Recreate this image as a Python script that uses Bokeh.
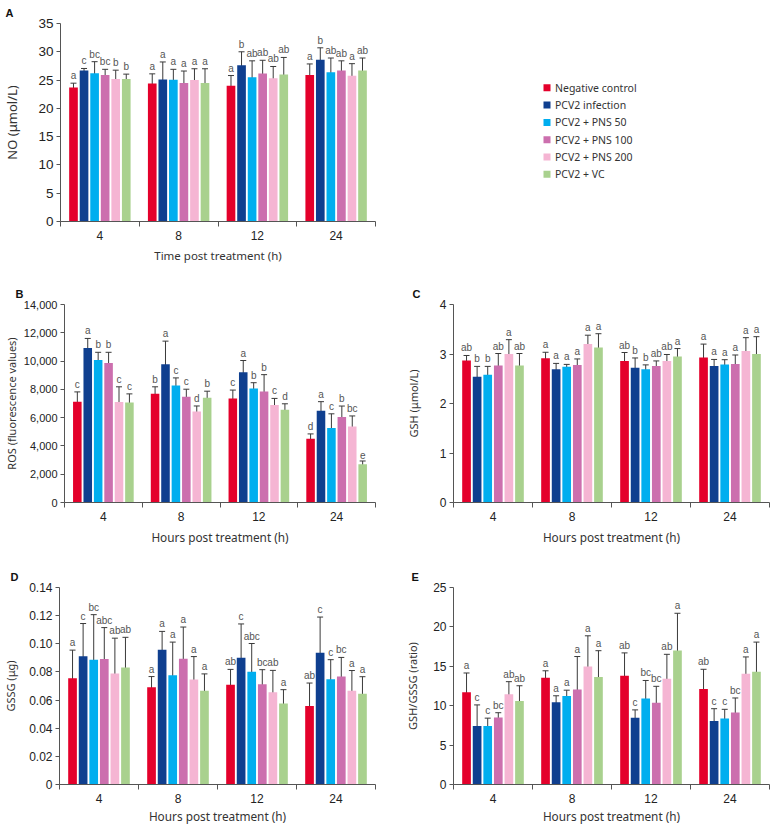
from bokeh.plotting import figure
from bokeh.models import (Range1d, FixedTicker, NumeralTickFormatter, Whisker, TeeHead,
                          ColumnDataSource)
from bokeh.layouts import column, row
from bokeh.embed import file_html
from bokeh.resources import INLINE
from bokeh.core.properties import value

# ---------------- data ----------------
times = ["4", "8", "12", "24"]
treatments = ["Negative control", "PCV2 infection", "PCV2 + PNS 50",
              "PCV2 + PNS 100", "PCV2 + PNS 200", "PCV2 + VC"]
colors = ["#E4002B", "#0F3F8F", "#00AEEF", "#CC6FAE", "#F5B5D3", "#A9D18E"]

# A: NO (umol/L)  rows = time, cols = treatment
no_mean = [[23.7, 26.7, 26.2, 25.9, 25.2, 25.2],
           [24.4, 25.1, 25.05, 24.5, 25.0, 24.5],
           [24.0, 27.6, 25.5, 26.15, 25.3, 26.0],
           [25.9, 28.6, 26.4, 26.7, 25.75, 26.7]]
no_err = [[0.75, 0.35, 2.05, 1.0, 1.55, 0.85],
          [1.7, 3.1, 1.85, 2.1, 2.0, 2.5],
          [1.8, 2.4, 2.9, 2.35, 2.1, 3.0],
          [1.95, 2.1, 2.5, 1.7, 2.15, 2.2]]
no_letters = [["a", "c", "bc", "bc", "b", "b"],
              ["a", "a", "a", "a", "a", "a"],
              ["a", "b", "ab", "ab", "ab", "ab"],
              ["a", "b", "ab", "ab", "a", "ab"]]
no_ticks = [0, 5, 10, 15, 20, 25, 30, 35]

# B: ROS (fluorescence values)
ros_mean = [[7120, 10930, 10080, 9870, 7100, 7070],
            [7690, 9780, 8270, 7470, 6440, 7400],
            [7360, 9210, 8060, 7850, 6890, 6560],
            [4510, 6490, 5260, 6040, 5380, 2700]]
ros_err = [[700, 670, 540, 750, 1080, 610],
           [490, 1630, 540, 540, 385, 470],
           [590, 830, 410, 1190, 470, 420],
           [340, 640, 1010, 780, 740, 235]]
ros_letters = [["c", "a", "b", "b", "c", "c"],
               ["b", "a", "c", "c", "d", "b"],
               ["c", "a", "b", "b", "c", "d"],
               ["d", "a", "c", "b", "bc", "e"]]
ros_ticks = [0, 2000, 4000, 6000, 8000, 10000, 12000, 14000]

# C: GSH (umol/L)
gsh_mean = [[2.87, 2.54, 2.58, 2.77, 3.0, 2.77],
            [2.915, 2.69, 2.74, 2.78, 3.2, 3.13],
            [2.86, 2.72, 2.69, 2.76, 2.86, 2.95],
            [2.93, 2.76, 2.79, 2.80, 3.06, 3.0]]
gsh_err = [[0.1, 0.21, 0.17, 0.24, 0.29, 0.24],
           [0.12, 0.12, 0.05, 0.12, 0.18, 0.28],
           [0.17, 0.2, 0.09, 0.1, 0.13, 0.16],
           [0.27, 0.13, 0.095, 0.18, 0.27, 0.35]]
gsh_letters = [["ab", "b", "b", "ab", "a", "ab"],
               ["a", "a", "a", "a", "a", "a"],
               ["ab", "b", "b", "ab", "ab", "a"],
               ["a", "a", "a", "a", "a", "a"]]
gsh_ticks = [0, 1, 2, 3, 4]

# D: GSSG (ug)
gssg_mean = [[0.0755, 0.0911, 0.0887, 0.0892, 0.0788, 0.0831],
             [0.0692, 0.0958, 0.0776, 0.0894, 0.0746, 0.0666],
             [0.0708, 0.0901, 0.0802, 0.0713, 0.0656, 0.0576],
             [0.0558, 0.0936, 0.0748, 0.0767, 0.0666, 0.0645]]
gssg_err = [[0.020, 0.0233, 0.032, 0.0223, 0.0252, 0.0215],
            [0.0075, 0.013, 0.0236, 0.0225, 0.0163, 0.012],
            [0.011, 0.024, 0.020, 0.0103, 0.0155, 0.0098],
            [0.0163, 0.0254, 0.0139, 0.0136, 0.0144, 0.0121]]
gssg_letters = [["a", "c", "bc", "abc", "ab", "ab"],
                ["a", "a", "a", "a", "a", "a"],
                ["ab", "c", "abc", "bc", "ab", "a"],
                ["ab", "c", "c", "bc", "a", "a"]]
gssg_ticks = [0, 0.02, 0.04, 0.06, 0.08, 0.10, 0.12, 0.14]
gssg_tick_labels = ["0", "0.02", "0.04", "0.06", "0.08", "0.10", "0.12", "0.14"]

# E: GSH/GSSG ratio
ratio_mean = [[11.7, 7.42, 7.42, 8.51, 11.45, 10.6],
              [13.55, 10.44, 11.24, 12.04, 14.97, 13.63],
              [13.8, 8.47, 10.9, 10.36, 13.42, 16.99],
              [12.12, 8.05, 8.39, 9.14, 14.05, 14.3]]
ratio_err = [[2.45, 2.68, 1.0, 0.6, 1.6, 1.93],
             [0.88, 0.82, 0.73, 4.2, 3.9, 3.35],
             [2.9, 1.0, 2.3, 2.1, 3.1, 4.74],
             [2.5, 1.57, 1.15, 1.84, 2.14, 3.77]]
ratio_letters = [["a", "c", "c", "bc", "ab", "ab"],
                 ["a", "a", "a", "a", "a", "a"],
                 ["ab", "c", "bc", "bc", "ab", "a"],
                 ["ab", "c", "c", "bc", "a", "a"]]
ratio_ticks = [0, 5, 10, 15, 20, 25]

# ---------------- styling ----------------
TICK_FONT = "Liberation Sans"
TITLE_FONT = "Noto Sans"
AXIS_COLOR = "#555555"
ERR_COLOR = "#3a3a3a"
STEP = 0.134
BAR_W = 0.11


def make_panel(letter, mean, err, letters, yticks, ylabel, xlabel,
               width, height, mbl, mbr, mbt, mbb, ytick_size, ylabel_size,
               ylabel_standoff, xlabel_size, xlabel_standoff, title_offset,
               ytick_labels=None, yformat=None):
    n = len(treatments)
    xs, ups, lows, labs = [], [], [], []
    p = figure(width=width, height=height,
               x_range=Range1d(0, len(times)), y_range=Range1d(0, yticks[-1]),
               output_backend="svg", toolbar_location=None,
               min_border_left=mbl, min_border_right=mbr,
               min_border_top=mbt, min_border_bottom=mbb, title=letter)
    p.outline_line_color = None
    p.grid.visible = False
    p.background_fill_color = "white"
    p.border_fill_color = "white"

    p.title.text_font = TICK_FONT
    p.title.text_font_style = "bold"
    p.title.text_font_size = "11px"
    p.title.text_color = "#111111"
    p.title.align = "left"
    p.title.offset = title_offset
    p.title.standoff = 9

    for i in range(n):
        bx = [t + 0.5 + (i - (n - 1) / 2) * STEP for t in range(len(times))]
        btop = [mean[t][i] for t in range(len(times))]
        p.vbar(x=bx, top=btop, bottom=0, width=BAR_W,
               fill_color=colors[i], line_color=None)
        for t in range(len(times)):
            xs.append(bx[t])
            ups.append(mean[t][i] + err[t][i])
            lows.append(mean[t][i] - err[t][i])
            labs.append(letters[t][i])
    src = ColumnDataSource(dict(x=xs, upper=ups, lower=lows, letter=labs))
    w = Whisker(source=src, base="x", upper="upper", lower="lower",
                line_color=ERR_COLOR, line_width=1,
                upper_head=TeeHead(size=6, line_color=ERR_COLOR, line_width=1),
                lower_head=TeeHead(size=6, line_color=ERR_COLOR, line_width=1))
    p.add_layout(w)
    p.text(x="x", y="upper", text="letter", source=src,
           text_font=value(TICK_FONT), text_font_size="10px",
           text_color="#555555", text_align="center",
           text_baseline="bottom", y_offset=-2)

    # x axis: labels at group centres, tick marks at group boundaries
    xa = p.xaxis[0]
    centers = [t + 0.5 for t in range(len(times))]
    bounds = [float(t) for t in range(len(times) + 1)]
    xa.ticker = FixedTicker(ticks=centers, minor_ticks=bounds)
    xa.major_label_overrides = {c: lab for c, lab in zip(centers, times)}
    xa.major_tick_out = 0
    xa.major_tick_in = 0
    xa.minor_tick_out = 5
    xa.minor_tick_in = 0
    xa.minor_tick_line_color = AXIS_COLOR
    xa.axis_line_color = AXIS_COLOR
    xa.major_label_text_font = TICK_FONT
    xa.major_label_text_font_size = "12px"
    xa.major_label_text_color = "#222222"
    xa.major_label_standoff = 4
    xa.axis_label = xlabel
    xa.axis_label_text_font = TITLE_FONT
    xa.axis_label_text_font_style = "normal"
    xa.axis_label_text_font_size = xlabel_size
    xa.axis_label_text_color = "#333333"
    xa.axis_label_standoff = xlabel_standoff

    ya = p.yaxis[0]
    ya.ticker = FixedTicker(ticks=yticks, minor_ticks=[])
    if yformat is not None:
        ya.formatter = NumeralTickFormatter(format=yformat)
    if ytick_labels is not None:
        ya.major_label_overrides = {v: s for v, s in zip(yticks, ytick_labels)}
    ya.major_tick_out = 4
    ya.major_tick_in = 0
    ya.minor_tick_out = 0
    ya.minor_tick_in = 0
    ya.major_tick_line_color = AXIS_COLOR
    ya.axis_line_color = AXIS_COLOR
    ya.major_label_text_font = TICK_FONT
    ya.major_label_text_font_size = ytick_size
    ya.major_label_text_color = "#222222"
    ya.major_label_standoff = 3
    ya.axis_label = ylabel
    ya.axis_label_text_font = TITLE_FONT
    ya.axis_label_text_font_style = "normal"
    ya.axis_label_text_font_size = ylabel_size
    ya.axis_label_text_color = "#333333"
    ya.axis_label_standoff = ylabel_standoff
    return p


LW, RW = 390, 380
H1, H2, H3 = 270, 277, 279
A_TOP, A_BOTTOM = 23, 49

pA = make_panel("A", no_mean, no_err, no_letters, no_ticks, "NO (μmol/L)",
                "Time post treatment (h)", LW, H1, 58, 15, A_TOP, A_BOTTOM,
                "13.5px", "13px", 14, "11.5px", 5, -55)
pB = make_panel("B", ros_mean, ros_err, ros_letters, ros_ticks,
                "ROS (fluorescence values)", "Hours post treatment (h)",
                LW, H2, 58, 15, 34, 45, "11px", "11px", 2, "11.8px", 5, -49,
                yformat="0,0")
pC = make_panel("C", gsh_mean, gsh_err, gsh_letters, gsh_ticks, "GSH (μmol/L)",
                "Hours post treatment (h)", RW, H2, 63, 1, 34, 45,
                "12px", "11px", 16, "11.8px", 5, -41)
pD = make_panel("D", gssg_mean, gssg_err, gssg_letters, gssg_ticks, "GSSG (μg)",
                "Hours post treatment (h)", LW, H3, 58, 15, 40, 41,
                "12px", "11px", 8, "11.8px", 2, -49,
                ytick_labels=gssg_tick_labels)
pE = make_panel("E", ratio_mean, ratio_err, ratio_letters, ratio_ticks,
                "GSH/GSSG (ratio)", "Hours post treatment (h)", RW, H3,
                63, 1, 40, 41, "12px", "11px", 10, "11.8px", 2, -42)

# legend panel (right of panel A); its frame shares panel A's borders, and the
# ranges are set so that one unit is one pixel (y measured downwards)
pL = figure(width=RW, height=H1, output_backend="svg", toolbar_location=None,
            x_range=Range1d(0, RW), y_range=Range1d(H1 - A_BOTTOM, A_TOP),
            x_axis_location=None, y_axis_location=None,
            min_border_left=0, min_border_right=0,
            min_border_top=A_TOP, min_border_bottom=A_BOTTOM)
pL.outline_line_color = None
pL.grid.visible = False
LEG_X, LEG_Y, LEG_DY = 156.5, 87.3, 17.3
leg_y = [LEG_Y + k * LEG_DY for k in range(len(treatments))]
leg_src = ColumnDataSource(dict(x=[LEG_X] * len(treatments), y=leg_y,
                                tx=[LEG_X + 8] * len(treatments),
                                color=colors, label=treatments))
pL.scatter(x="x", y="y", source=leg_src, marker="square", size=7,
           fill_color="color", line_color=None)
pL.text(x="tx", y="y", text="label", source=leg_src,
        text_font=value(TITLE_FONT), text_font_size="10.5px",
        text_color="#333333", text_baseline="middle", text_align="left")

layout = column(row(pA, pL), row(pB, pC), row(pD, pE))
open("out.html", "w").write(file_html(layout, INLINE))
